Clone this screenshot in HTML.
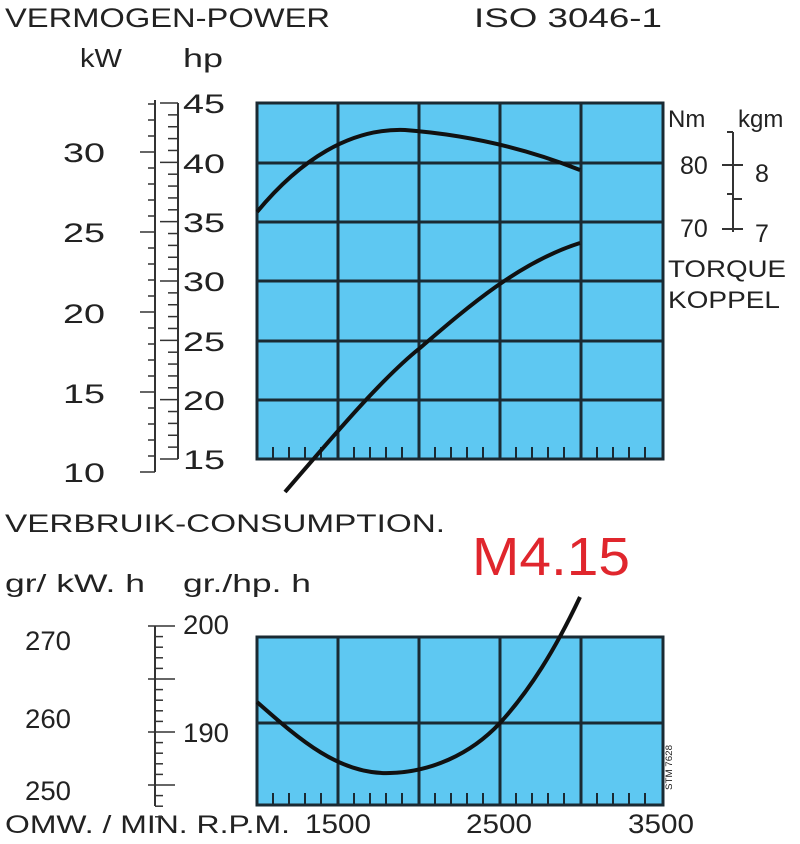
<!DOCTYPE html>
<html><head><style>
html,body{margin:0;padding:0;background:#fff;}
svg text{font-family:"Liberation Sans","DejaVu Sans",sans-serif;fill:#222;}
</style></head><body>
<svg width="800" height="839" viewBox="0 0 800 839" xmlns="http://www.w3.org/2000/svg">
<text x="5" y="27" font-size="27" textLength="325" lengthAdjust="spacingAndGlyphs">VERMOGEN-POWER</text>
<text x="474" y="27" font-size="27" textLength="188" lengthAdjust="spacingAndGlyphs">ISO 3046-1</text>
<text x="80" y="67" font-size="26" textLength="42" lengthAdjust="spacingAndGlyphs">kW</text>
<text x="183" y="67" font-size="26" textLength="40" lengthAdjust="spacingAndGlyphs">hp</text>

<rect x="257" y="103" width="406" height="356" fill="#5ec8f2" stroke="#1a2a33" stroke-width="3"/>
<g stroke="#1a2a33" stroke-width="3">
<line x1="338" y1="103" x2="338" y2="459"/><line x1="419" y1="103" x2="419" y2="459"/>
<line x1="500" y1="103" x2="500" y2="459"/><line x1="581" y1="103" x2="581" y2="459"/>
<line x1="257" y1="163" x2="663" y2="163"/><line x1="257" y1="222" x2="663" y2="222"/>
<line x1="257" y1="281" x2="663" y2="281"/><line x1="257" y1="341" x2="663" y2="341"/>
<line x1="257" y1="400" x2="663" y2="400"/>
</g>
<g stroke="#1a2a33" stroke-width="2" id="xt">
<line x1="273" y1="459" x2="273" y2="447"/><line x1="289" y1="459" x2="289" y2="447"/><line x1="305" y1="459" x2="305" y2="447"/><line x1="321" y1="459" x2="321" y2="447"/>
<line x1="354" y1="459" x2="354" y2="447"/><line x1="370" y1="459" x2="370" y2="447"/><line x1="386" y1="459" x2="386" y2="447"/><line x1="402" y1="459" x2="402" y2="447"/>
<line x1="435" y1="459" x2="435" y2="447"/><line x1="451" y1="459" x2="451" y2="447"/><line x1="467" y1="459" x2="467" y2="447"/><line x1="483" y1="459" x2="483" y2="447"/>
<line x1="516" y1="459" x2="516" y2="447"/><line x1="532" y1="459" x2="532" y2="447"/><line x1="548" y1="459" x2="548" y2="447"/><line x1="564" y1="459" x2="564" y2="447"/>
<line x1="597" y1="459" x2="597" y2="447"/><line x1="613" y1="459" x2="613" y2="447"/><line x1="629" y1="459" x2="629" y2="447"/><line x1="645" y1="459" x2="645" y2="447"/>
</g>
<path d="M257,212 C300,160 350,128 405,130 C470,135 530,150 580,170" fill="none" stroke="#111" stroke-width="4"/>
<path d="M285,492 C330,440 380,380 420,348 C470,305 520,262 580,243" fill="none" stroke="#111" stroke-width="4"/>

<g stroke="#333" stroke-width="2">
<line x1="155" y1="100" x2="155" y2="472"/>
<line x1="178" y1="103" x2="178" y2="459"/>
</g>
<g font-size="27">
<text x="183" y="113" textLength="42" lengthAdjust="spacingAndGlyphs">45</text><text x="183" y="173" textLength="42" lengthAdjust="spacingAndGlyphs">40</text><text x="183" y="232" textLength="42" lengthAdjust="spacingAndGlyphs">35</text>
<text x="183" y="291" textLength="42" lengthAdjust="spacingAndGlyphs">30</text><text x="183" y="351" textLength="42" lengthAdjust="spacingAndGlyphs">25</text><text x="183" y="410" textLength="42" lengthAdjust="spacingAndGlyphs">20</text><text x="183" y="469" textLength="42" lengthAdjust="spacingAndGlyphs">15</text>
<text x="63" y="162" textLength="42" lengthAdjust="spacingAndGlyphs">30</text><text x="63" y="242" textLength="42" lengthAdjust="spacingAndGlyphs">25</text><text x="63" y="323" textLength="42" lengthAdjust="spacingAndGlyphs">20</text>
<text x="63" y="403" textLength="42" lengthAdjust="spacingAndGlyphs">15</text><text x="63" y="482" textLength="42" lengthAdjust="spacingAndGlyphs">10</text>
</g>

<text x="668" y="127" font-size="24">Nm</text><text x="738" y="127" font-size="24">kgm</text>
<line x1="733" y1="132" x2="733" y2="232" stroke="#333" stroke-width="2"/>
<g stroke="#333" stroke-width="2">
<line x1="727" y1="132" x2="733" y2="132"/><line x1="722" y1="165" x2="743" y2="165"/>
<line x1="727" y1="194" x2="733" y2="194"/><line x1="733" y1="199" x2="742" y2="199"/>
<line x1="722" y1="229" x2="743" y2="229"/>
</g>
<text x="680" y="174" font-size="25">80</text><text x="755" y="182" font-size="25">8</text>
<text x="680" y="237" font-size="25">70</text><text x="755" y="242" font-size="25">7</text>
<text x="668" y="277" font-size="24" textLength="118" lengthAdjust="spacingAndGlyphs">TORQUE</text><text x="668" y="308" font-size="24" textLength="112" lengthAdjust="spacingAndGlyphs">KOPPEL</text>

<text x="5" y="532" font-size="25" textLength="440" lengthAdjust="spacingAndGlyphs">VERBRUIK-CONSUMPTION.</text>
<text x="472" y="575" font-size="54" style="fill:#e0262d" textLength="158" lengthAdjust="spacingAndGlyphs">M4.15</text>
<text x="5" y="592" font-size="25" textLength="140" lengthAdjust="spacingAndGlyphs">gr/ kW. h</text>
<text x="183" y="592" font-size="25" textLength="128" lengthAdjust="spacingAndGlyphs">gr./hp. h</text>

<rect x="257" y="637" width="406" height="168" fill="#5ec8f2" stroke="#1a2a33" stroke-width="3"/>
<g stroke="#1a2a33" stroke-width="3">
<line x1="338" y1="637" x2="338" y2="805"/><line x1="419" y1="637" x2="419" y2="805"/>
<line x1="500" y1="637" x2="500" y2="805"/><line x1="581" y1="637" x2="581" y2="805"/>
<line x1="257" y1="723" x2="663" y2="723"/>
</g>
<g stroke="#1a2a33" stroke-width="2" transform="translate(0,346)">
<line x1="273" y1="459" x2="273" y2="447"/><line x1="289" y1="459" x2="289" y2="447"/><line x1="305" y1="459" x2="305" y2="447"/><line x1="321" y1="459" x2="321" y2="447"/>
<line x1="354" y1="459" x2="354" y2="447"/><line x1="370" y1="459" x2="370" y2="447"/><line x1="386" y1="459" x2="386" y2="447"/><line x1="402" y1="459" x2="402" y2="447"/>
<line x1="435" y1="459" x2="435" y2="447"/><line x1="451" y1="459" x2="451" y2="447"/><line x1="467" y1="459" x2="467" y2="447"/><line x1="483" y1="459" x2="483" y2="447"/>
<line x1="516" y1="459" x2="516" y2="447"/><line x1="532" y1="459" x2="532" y2="447"/><line x1="548" y1="459" x2="548" y2="447"/><line x1="564" y1="459" x2="564" y2="447"/>
<line x1="597" y1="459" x2="597" y2="447"/><line x1="613" y1="459" x2="613" y2="447"/><line x1="629" y1="459" x2="629" y2="447"/><line x1="645" y1="459" x2="645" y2="447"/>
</g>
<path d="M257,702 C300,740 340,775 390,773 C430,772 470,755 500,723 C530,690 555,650 580,597" fill="none" stroke="#111" stroke-width="4"/>
<text transform="translate(672,790) rotate(-90)" font-size="9" textLength="45" lengthAdjust="spacingAndGlyphs">STM 7628</text>

<line x1="155" y1="626" x2="155" y2="806" stroke="#333" stroke-width="2"/>
<g font-size="27">
<text x="183" y="634" textLength="46" lengthAdjust="spacingAndGlyphs">200</text><text x="183" y="742" textLength="46" lengthAdjust="spacingAndGlyphs">190</text>
<text x="25" y="650" textLength="46" lengthAdjust="spacingAndGlyphs">270</text><text x="25" y="728" textLength="46" lengthAdjust="spacingAndGlyphs">260</text><text x="25" y="800" textLength="46" lengthAdjust="spacingAndGlyphs">250</text>
</g>
<text x="5" y="833" font-size="25" textLength="285" lengthAdjust="spacingAndGlyphs">OMW. / MIN.  R.P.M.</text>
<text x="305" y="833" font-size="27" textLength="66" lengthAdjust="spacingAndGlyphs">1500</text>
<text x="466" y="833" font-size="27" textLength="66" lengthAdjust="spacingAndGlyphs">2500</text>
<text x="628" y="833" font-size="27" textLength="66" lengthAdjust="spacingAndGlyphs">3500</text>

<script>
(function(){
var ns="http://www.w3.org/2000/svg",svg=document.querySelector("svg");
function L(x1,y1,x2,y2){var l=document.createElementNS(ns,"line");l.setAttribute("x1",x1);l.setAttribute("y1",y1);l.setAttribute("x2",x2);l.setAttribute("y2",y2);l.setAttribute("stroke","#333");l.setAttribute("stroke-width","1.5");svg.appendChild(l);}
for(var i=0;i<=30;i++){var y=103+i*356/30;var major=i%5==0;L(major?160:168,y,178,y);}
for(var k=8;k<=33;k++){var y=152+(30-k)*16;if(y<100||y>472)continue;var major=k%5==0;L(major?140:148,y,155,y);}
for(var i=0;i<=18;i++){var y=626+i*10.6;L(i%5==0?148:155,y,i%5==0?175:163,y);}
})();
</script>
</svg>
</body></html>
